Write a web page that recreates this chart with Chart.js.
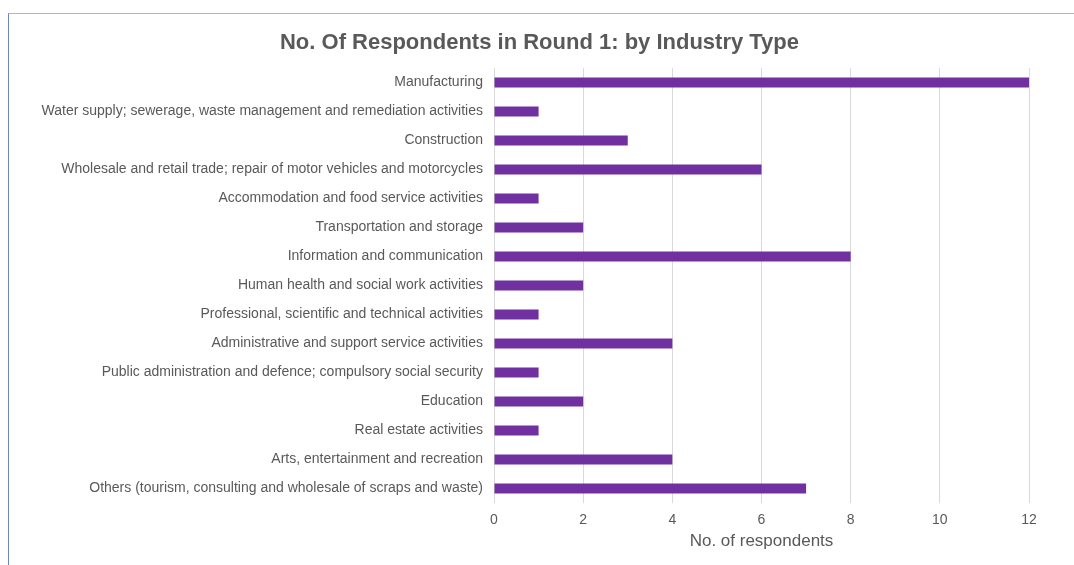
<!DOCTYPE html>
<html>
<head>
<meta charset="utf-8">
<script src="https://cdn.jsdelivr.net/npm/chart.js@4"></script>
<style>
  html, body { margin: 0; padding: 0; background: #fff; overflow: hidden; }
  #wrap { position: relative; width: 1074px; height: 565px; }
  #frame { position: absolute; left: 8px; top: 13px; width: 1100px; height: 600px;
           border-top: 1px solid #a9b8d4; border-left: 1px solid #6f86b6; }
  canvas { position: absolute; left: 0; top: 0; }
</style>
</head>
<body>
<div id="wrap">
  <div id="frame"></div>
  <canvas id="chart" width="1074" height="565"></canvas>
</div>
<script>
// industry categories, top to bottom
var industries = [
  'Manufacturing',
  'Water supply; sewerage, waste management and remediation activities',
  'Construction',
  'Wholesale and retail trade; repair of motor vehicles and motorcycles',
  'Accommodation and food service activities',
  'Transportation and storage',
  'Information and communication',
  'Human health and social work activities',
  'Professional, scientific and technical activities',
  'Administrative and support service activities',
  'Public administration and defence; compulsory social security',
  'Education',
  'Real estate activities',
  'Arts, entertainment and recreation',
  'Others (tourism, consulting and wholesale of scraps and waste)'
];
var respondents = [12, 1, 3, 6, 1, 2, 8, 2, 1, 4, 1, 2, 1, 4, 7];
var xTicks = [0, 2, 4, 6, 8, 10, 12];

var grey = '#595959';
Chart.defaults.font.family = '"Liberation Sans", Arial, sans-serif';

// nudge the title so it is centred on the whole canvas, not the padded box
var centreTitle = {
  id: 'centreTitle',
  afterLayout: function (chart) {
    var t = chart.titleBlock;
    if (t) {
      t.left = 5;
      t.right = chart.width;
    }
  }
};

var ctx = document.getElementById('chart').getContext('2d');
var chart = new Chart(ctx, {
  type: 'bar',
  data: {
    labels: industries,
    datasets: [{
      label: 'No. of respondents',
      data: respondents,
      backgroundColor: '#7030A0',
      borderWidth: 0,
      categoryPercentage: 1,
      barPercentage: 0.34
    }]
  },
  plugins: [centreTitle],
  options: {
    indexAxis: 'y',
    responsive: false,
    animation: false,
    layout: { padding: { left: 0, right: 45, top: 0, bottom: 0 } },
    plugins: {
      legend: { display: false },
      tooltip: { enabled: false },
      title: {
        display: true,
        text: 'No. Of Respondents in Round 1: by Industry Type',
        color: grey,
        font: { size: 22, weight: 'bold' },
        padding: { top: 30, bottom: 11.6 }
      }
    },
    scales: {
      x: {
        min: 0,
        max: 12,
        afterBuildTicks: function (scale) {
          scale.ticks = xTicks.map(function (v) { return { value: v }; });
        },
        afterFit: function (scale) { scale.height = 62; },
        grid: { color: '#d9d9d9', drawTicks: false },
        border: { display: false },
        ticks: { color: grey, font: { size: 14 }, padding: 9 },
        title: {
          display: true,
          text: 'No. of respondents',
          color: grey,
          font: { size: 17 },
          padding: { top: 4, bottom: 13 }
        }
      },
      y: {
        afterFit: function (scale) { scale.width = 494; },
        grid: { display: false, drawTicks: false },
        border: { display: false },
        ticks: { color: grey, font: { size: 14 }, padding: 11, autoSkip: false }
      }
    }
  }
});
</script>
</body>
</html>
